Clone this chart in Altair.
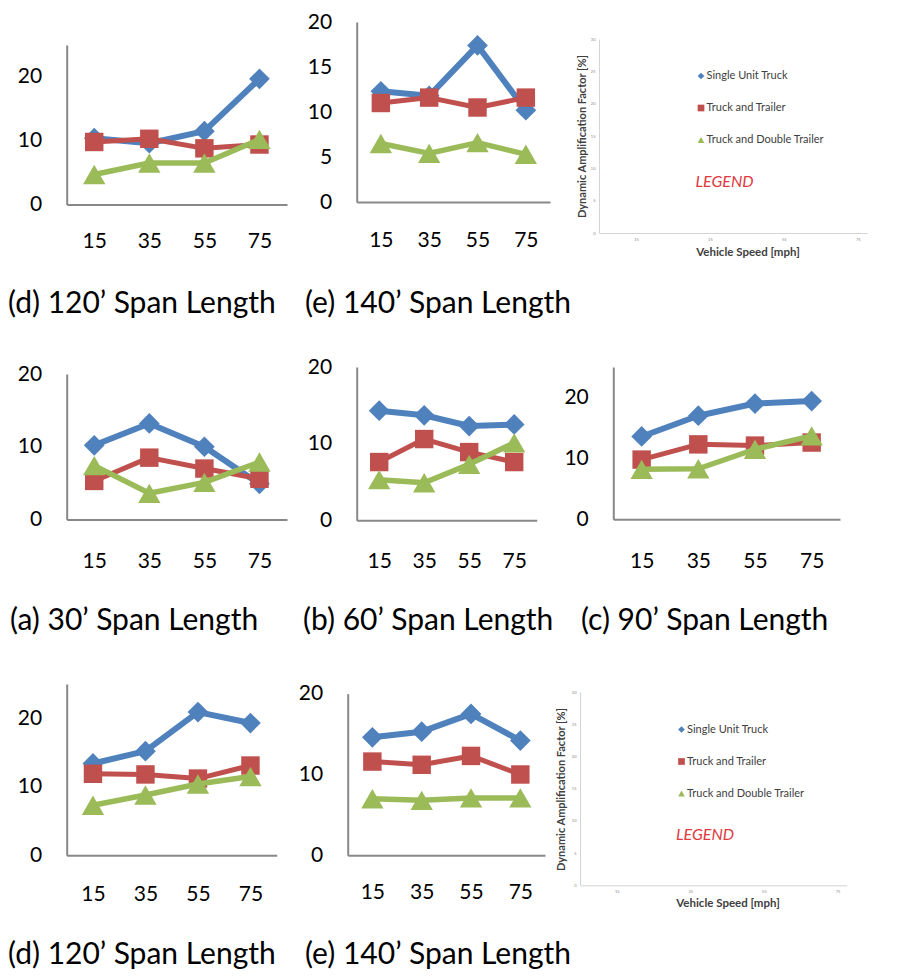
import altair as alt
import pandas as pd

# ---------------- data ----------------
speeds = [15, 35, 55, 75]
series = ["Single Unit Truck", "Truck and Trailer", "Truck and Double Trailer"]

top_d120_single = [10.4, 9.6, 11.5, 19.7]
top_d120_trailer = [9.8, 10.3, 8.8, 9.4]
top_d120_double = [4.7, 6.5, 6.5, 10.2]

top_e140_single = [12.3, 11.8, 17.4, 10.2]
top_e140_trailer = [11.0, 11.6, 10.5, 11.6]
top_e140_double = [6.5, 5.4, 6.6, 5.3]

a30_single = [10.2, 13.2, 10.0, 4.9]
a30_trailer = [5.3, 8.5, 7.0, 5.6]
a30_double = [7.4, 3.6, 5.1, 7.9]

b60_single = [14.3, 13.7, 12.3, 12.5]
b60_trailer = [7.6, 10.6, 8.9, 7.6]
b60_double = [5.3, 4.9, 7.3, 10.1]

c90_single = [13.6, 17.0, 19.0, 19.4]
c90_trailer = [9.8, 12.3, 12.1, 12.6]
c90_double = [8.2, 8.3, 11.5, 13.7]

d120_single = [13.4, 15.2, 20.9, 19.3]
d120_trailer = [11.9, 11.8, 11.2, 13.1]
d120_double = [7.3, 8.8, 10.4, 11.5]

e140_single = [14.6, 15.3, 17.5, 14.2]
e140_trailer = [11.6, 11.2, 12.3, 10.0]
e140_double = [7.0, 6.8, 7.1, 7.1]

captions = [
    "(d) 120\u2019 Span Length", "(e) 140\u2019 Span Length",
    "(a) 30\u2019 Span Length", "(b) 60\u2019 Span Length", "(c) 90\u2019 Span Length",
    "(d) 120\u2019 Span Length", "(e) 140\u2019 Span Length",
]

# ---------------- style ----------------
FONT = "Lato"
colors = ["#4F81BD", "#C0504D", "#9BBB59"]
shapes = ["diamond", "square", "triangle-up"]
marker_sizes = [430, 340, 500]
line_widths = [6, 5, 5.5]
AXIS_COLOR = "#888888"
CAP_SIZE = 30

color_scale = alt.Scale(domain=series, range=colors)
shape_scale = alt.Scale(domain=series, range=shapes)


def data_panel(values, caption, W, H, xr, yr, ymax, yticks, xpad, cap_offset, cap_dx):
    rows = []
    for s, vals in zip(series, values):
        for sp, v in zip(speeds, vals):
            rows.append({"speed": sp, "value": v, "series": s})
    df = pd.DataFrame(rows)

    x = alt.X(
        "speed:O", title=None,
        scale=alt.Scale(type="point", domain=speeds, range=xr, padding=0.5),
        axis=alt.Axis(orient="bottom", offset=yr[0] - H, labelAngle=0, ticks=False,
                      grid=False, domainColor=AXIS_COLOR, domainWidth=2,
                      labelFont=FONT, labelFontSize=21, labelColor="black",
                      labelPadding=xpad),
    )
    y = alt.Y(
        "value:Q", title=None,
        scale=alt.Scale(domain=[0, ymax], range=yr, nice=False, zero=True),
        axis=alt.Axis(orient="left", offset=-xr[0], values=yticks, ticks=False,
                      grid=False, domainColor=AXIS_COLOR, domainWidth=2,
                      labelFont=FONT, labelFontSize=21, labelColor="black",
                      labelPadding=25),
    )
    color = alt.Color("series:N", scale=color_scale, legend=None)
    shape = alt.Shape("series:N", scale=shape_scale, legend=None)

    layers = []
    for i, s in enumerate(series):
        base = alt.Chart(df).transform_filter(alt.datum.series == s)
        layers.append(
            base.mark_line(strokeWidth=line_widths[i], strokeJoin="round")
            .encode(x=x, y=y, color=color)
        )
        layers.append(
            base.mark_point(filled=True, opacity=1, size=marker_sizes[i], strokeWidth=0)
            .encode(x=x, y=y, color=color, shape=shape)
        )
    return alt.layer(*layers).properties(
        width=W, height=H,
        title=alt.TitleParams(caption, orient="bottom", anchor="start", frame="group",
                              offset=cap_offset, dx=cap_dx, font=FONT,
                              fontSize=CAP_SIZE, fontWeight="normal", color="black"),
    )


def legend_panel(W, H, xr, yr, legend_x, legend_y, ytitle_x, ytitle_y, xtitle_x, xtitle_y):
    axis_df = pd.DataFrame({"speed": speeds})
    x = alt.X(
        "speed:Q",
        scale=alt.Scale(domain=[5, 77.5], range=xr, nice=False, zero=False),
        axis=alt.Axis(orient="bottom", offset=yr[0] - H, values=speeds, ticks=False,
                      title="Vehicle Speed [mph]",
                      grid=False, domainColor="#d4d4d4", domainWidth=1,
                      labelFont=FONT, labelFontSize=4, labelColor="#888888",
                      labelPadding=4, titleFont=FONT, titleFontSize=11.5,
                      titleFontWeight="bold", titleColor="#404040",
                      titleX=xtitle_x, titleY=xtitle_y, titleBaseline="middle"),
    )
    y = alt.YDatum(
        0, type="quantitative",
        scale=alt.Scale(domain=[0, 30], range=yr, nice=False),
        axis=alt.Axis(orient="left", offset=-xr[0], values=[0, 5, 10, 15, 20, 25, 30],
                      title="Dynamic Amplification Factor [%]",
                      ticks=False, grid=False, domainColor="#d4d4d4", domainWidth=1,
                      labelFont=FONT, labelFontSize=4, labelColor="#888888",
                      labelPadding=4, titleFont=FONT, titleFontSize=11,
                      titleFontWeight="bold", titleColor="#404040", titleAngle=270,
                      titleX=ytitle_x, titleY=ytitle_y, titleBaseline="middle",
                      titleAlign="center"),
    )
    axes_layer = alt.Chart(axis_df).mark_point(opacity=0).encode(x=x, y=y)

    legend = alt.Legend(
        orient="none", legendX=legend_x, legendY=legend_y, padding=0,
        title="LEGEND", titleOrient="bottom", titleAnchor="start",
        titleFont=FONT, titleFontSize=16, titleFontStyle="italic",
        titleFontWeight="normal", titleColor="#E03A3E", titlePadding=28,
        labelFont=FONT, labelFontSize=11, labelColor="#404040", labelOffset=0,
        symbolSize=45, symbolStrokeWidth=0, symbolOpacity=1, rowPadding=20,
    )
    leg_df = pd.DataFrame({"series": series})
    legend_layer = alt.Chart(leg_df).mark_point(filled=True, opacity=0).encode(
        color=alt.Color("series:N", scale=color_scale, legend=legend),
        shape=alt.Shape("series:N", scale=shape_scale, legend=legend),
    )
    return alt.layer(axes_layer, legend_layer).properties(width=W, height=H)


# column widths: 282, 265, 335 ; row heights: 322, 330, 308
p1 = data_panel([top_d120_single, top_d120_trailer, top_d120_double], captions[0],
                282, 322, [58.7, 279], [194.5, 35], 25, [0, 10, 20], 25.5, -42.7, 0)
p2 = data_panel([top_e140_single, top_e140_trailer, top_e140_double], captions[1],
                265, 322, [66.7, 260], [192, 12], 20, [0, 5, 10, 15, 20], 27.7, -42.7, 15)
p3 = legend_panel(335, 322, [44, 312], [223, 29], 140.5, 60.5, -17, 126, 192.5, 19)

pa = data_panel([a30_single, a30_trailer, a30_double], captions[2],
                282, 330, [58.7, 279], [187.5, 42], 20, [0, 10, 20], 30.5, -55.7, 2)
pb = data_panel([b60_single, b60_trailer, b60_double], captions[3],
                265, 330, [66.7, 246.7], [188.3, 35], 20, [0, 10, 20], 29.7, -55.7, 13)
pc = data_panel([c90_single, c90_trailer, c90_double], captions[4],
                335, 330, [58.3, 285], [187.3, 35], 25, [0, 10, 20], 30.7, -55.7, 26)

pd_ = data_panel([d120_single, d120_trailer, d120_double], captions[5],
                 282, 308, [58.7, 268.7], [193.3, 22], 25, [0, 10, 20], 27.7, -29.7, 0)
pe = data_panel([e140_single, e140_trailer, e140_double], captions[6],
                265, 308, [57.7, 255], [193.3, 31.7], 20, [0, 10, 20], 25.7, -29.7, 15)
p8 = legend_panel(335, 308, [25, 291.7], [223.3, 30], 121, 62, -18.3, 127, 172.5, 18.4)

chart = alt.concat(
    p1, p2, p3, pa, pb, pc, pd_, pe, p8,
    columns=3, spacing=0, bounds="flush", align="each",
).properties(
    padding={"left": 0, "top": 2, "right": 0, "bottom": 0}
).resolve_scale(
    x="independent", y="independent", color="independent", shape="independent"
).configure_view(stroke=None)

chart.save("out.html", embed_options={"renderer": "svg", "actions": False})
